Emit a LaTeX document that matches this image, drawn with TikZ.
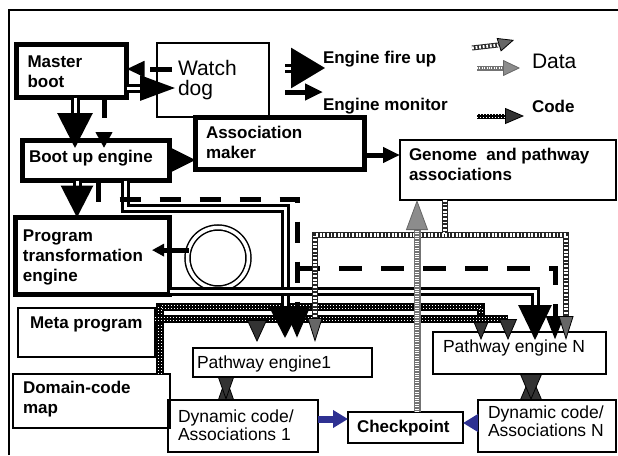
\documentclass[tikz,border=0pt]{standalone}
\usepackage{fontspec}
\setmainfont{Liberation Sans}
\usetikzlibrary{arrows.meta,calc}
\definecolor{navy}{RGB}{46,49,146}
\newcommand\bxt[5]{\parbox[c][#2pt][t]{#1pt}{\raggedright\leftskip=#3pt\relax\rule{0pt}{#4pt}#5}}
\newcommand\fbold{\fontsize{17}{20}\selectfont\bfseries}
\newcommand\freg{\fontsize{17.5}{18}\selectfont}
\newcommand\fbig{\fontsize{21}{20}\selectfont}
\tikzset{
  thickbox/.style={draw, line width=5pt, inner sep=0pt, outer sep=0pt, anchor=north west, font=\fbold},
  thinbox/.style={draw, line width=1.5pt, inner sep=0pt, outer sep=0pt, anchor=north west},
  lbl/.style={anchor=base west, inner sep=0pt, outer sep=0pt},
  fire/.style={double, line width=3pt, double distance=3pt, -{Triangle[length=32pt,width=32pt]}},
  mon/.style={line width=5pt, -{Triangle[length=16pt,width=16pt]}},
  codeband/.style={draw=black, line width=#1, postaction={draw=white, double=black, line width=1pt, double distance=0.3*#1, dash pattern=on 1pt off 2pt}},
  codeband/.default=8pt,
  codehead/.style={draw=black, line width=0.8pt, -{Triangle[fill=black!80,#1]}},
  codebow/.style={draw=black, line width=0.8pt, {Triangle[fill=black!80,#1]}-{Triangle[fill=black!80,#1]}},
  graydata/.style={draw=black!55, line width=#1, postaction={draw=white, line width=0.55*#1, dash pattern=on 1pt off 1.4pt}},
  graydata/.default=7pt,
  grayhead/.style={draw=black!60, line width=0.8pt, -{Triangle[fill=black!45,#1]}},
  hatch/.style={draw=black!85, line width=#1, postaction={draw=white, line width=0.6*#1, dash pattern=on 1.8pt off 1.8pt}},
  hatch/.default=6pt,
  hatchhead/.style={draw=black, line width=0.8pt, -{Triangle[fill=black!60,#1]}},
  bluearrow/.style={draw=navy, line width=7pt, -{Triangle[length=15pt,width=17pt]}}
}
\begin{document}
\begin{tikzpicture}[x=1pt,y=-1pt]
\useasboundingbox (0,0) rectangle (618,455);
% frame
\draw[line width=1.5pt] (9,455) -- (9,10) -- (618,10);
% boxes
\node[thickbox] (mb) at (16.5,44.5) {\bxt{110}{53}{11}{22.5}{Master\\boot}};
\node[thinbox, font=\fbig] (wd) at (157,43) {\bxt{112}{74}{21}{32}{Watch\\dog}};
\node[thickbox] (bu) at (22.5,140.5) {\bxt{147}{40}{6.5}{21.5}{Boot up engine}};
\node[thickbox] (am) at (195.5,117.5) {\bxt{169}{52}{10.5}{20.5}{Association\\maker}};
\node[thinbox, font=\fbold] (gp) at (400,140) {\bxt{216}{60}{9}{20}{Genome\ \ and pathway\\associations}};
\node[thickbox] (pte) at (15.5,217.5) {\bxt{154}{77}{7.5}{23.5}{Program\\transformation\\engine}};
\node[thinbox, font=\fbold] (mp) at (18,308) {\bxt{137}{49}{12}{20}{Meta program}};
\node[thinbox, font=\fbold] (dc) at (13,374) {\bxt{157}{54}{10}{19}{Domain-code\\map}};
\node[thinbox, font=\freg] (pe1) at (193,348) {\bxt{179}{29}{4}{20}{Pathway engine1}};
\node[thinbox, font=\freg] (pen) at (433,332) {\bxt{173}{42}{10}{20}{Pathway engine N}};
\node[thinbox, font=\freg] (dy1) at (168,400) {\bxt{150}{52}{10}{22}{Dynamic code/\\Associations 1}};
\node[thinbox, font=\fbold] (ck) at (348,412) {\bxt{115}{31}{9}{20}{Checkpoint}};
\node[thinbox, font=\freg] (dyn) at (478,400) {\bxt{138}{52}{10}{18}{Dynamic code/\\Associations N}};
\node[draw, circle, double, line width=1.5pt, double distance=3.5pt, minimum size=61pt, inner sep=0pt, outer sep=0pt] (eng) at (218,258) {};
% legend
\coordinate (lf1) at (285,68); \coordinate (lf2) at (325,68);
\draw[fire, -{Triangle[length=34pt,width=40pt]}] (lf1) -- (lf2);
\node[lbl, font=\fbold] (tfire) at (323,63) {Engine fire up};
\coordinate (lm1) at (285,92); \coordinate (lm2) at (323,92);
\draw[mon, -{Triangle[length=18pt,width=16pt]}] (lm1) -- (lm2);
\node[lbl, font=\fbold] (tmon) at (323,110) {Engine monitor};
\coordinate (lh1) at (472,48); \coordinate (lh2) at (498,45); \coordinate (lh3) at (514,40);
\draw[hatch=5pt] (lh1) -- (lh2);
\draw[hatchhead={length=16pt,width=14pt}] (lh2) -- (lh3);
\coordinate (lg1) at (477,68); \coordinate (lg2) at (503,68); \coordinate (lg3) at (520,68);
\draw[graydata=5pt] (lg1) -- (lg2);
\draw[grayhead={length=17pt,width=16pt}] (lg2) -- (lg3);
\node[lbl, font=\fbig] (tdata) at (532,68) {Data};
\coordinate (lc1) at (477,116); \coordinate (lc2) at (505,116); \coordinate (lc3) at (524,116);
\draw[codeband=5pt] (lc1) -- (lc2);
\draw[codehead={length=19pt,width=16pt}] (lc2) -- (lc3);
\node[lbl, font=\fbold] (tcode) at (532,112) {Code};
% code bands
\coordinate (c1) at (160,307); \coordinate (c2) at (481,307); \coordinate (c3) at (508,319); \coordinate (c4) at (257,320);
\draw[codeband] (dc.north -| c1) -- (c1) -- (c2) -- ($(c2)+(0,11)$);
\draw[codehead={length=22pt,width=18pt}] ($(c2)+(0,11)$) -- ($(c2 |- pen.north)+(0,8)$);
\draw[codeband] (mp.east |- c3) -- (c3);
\draw[codehead={length=21pt,width=18pt}] (c3) -- ($(c3 |- pen.north)+(0,8)$);
\draw[codehead={length=22pt,width=20pt}] (c4) -- ($(c4 |- pe1.north)+(0,-6)$);
\draw[codebow={length=23pt,width=16pt}] (pe1.south -| 226,0) -- (dy1.north -| 226,0);
\draw[codebow={length=26pt,width=22pt}] (pen.south -| 531,0) -- (dyn.north -| 531,0);
% engine fire up
\draw[fire, -{Triangle[length=35pt,width=25pt]}] (mb.east |- 0,88) -- ($(wd.west |- 0,88)+(18,0)$);
\draw[fire, -{Triangle[length=35pt,width=35pt]}] (mb.south -| 75,0) -- ($(bu.north -| 75,0)+(0,7.5)$);
\draw[fire, -{Triangle[length=26pt,width=25pt]}] (bu.east |- 0,160) -- (am.west |- 0,160);
\draw[fire] (bu.south -| 77,0) -- (pte.north -| 77,0);
\coordinate (f1) at (125,208); \coordinate (f2) at (285,208); \coordinate (f3) at (535,291);
\draw[fire] (bu.south -| f1) -- (f1) -- (f2) -- ($(f2 |- pe1.north)+(0,-10)$);
\draw[fire, -{Triangle[length=35pt,width=33pt]}] (pte.east |- f3) -- (f3) -- ($(f3 |- pen.north)+(0,8)$);
% engine monitor
\draw[mon, dash pattern=on 22pt off 10pt, -{Triangle[length=18pt,width=15pt]}] ($(wd.west |- 0,69)+(15,0)$) -- (mb.east |- 0,69);
\draw[mon, dash pattern=on 20pt off 17pt] (mb.south -| 104,0) -- ($(bu.north -| 104,0)+(0,7.5)$);
\draw[mon, -{Triangle[length=17pt,width=15pt]}] (am.east |- 0,155) -- (gp.west |- 0,155);
\draw[mon, -{Triangle[length=12pt,width=12pt]}] (eng.165) -- ($(eng.165 -| pte.east)+(-17.5,0)$);
\coordinate (m1) at (98,199); \coordinate (m2) at (297,199); \coordinate (m3) at (297,268); \coordinate (m4) at (555,268);
\draw[mon, dash pattern=on 21pt off 19pt, -{Triangle[length=30pt,width=24pt]}] (bu.south -| m1) -- (m1) -- (m2) -- ($(m2 |- pe1.north)+(0,-10)$);
\draw[mon, dash pattern=on 23pt off 19pt, -{Triangle[length=24pt,width=17pt]}] (m3) -- (m4) -- ($(m4 |- pen.north)+(0,8)$);
% hatched data
\coordinate (h0) at (445,235); \coordinate (h1) at (315,235); \coordinate (h2) at (315,318);
\coordinate (h3) at (566,235); \coordinate (h4) at (566,316);
\draw[hatch] (gp.south -| h0) -- (h0) -- (h1) -- (h2);
\draw[hatchhead={length=24pt,width=15pt}] (h2) -- ($(h2 |- pe1.north)+(0,-6)$);
\draw[hatch] (h0) -- (h3) -- (h4);
\draw[hatchhead={length=24pt,width=15pt}] (h4) -- ($(h4 |- pen.north)+(0,8)$);
% gray data
\coordinate (g1) at (417,230);
\draw[graydata] (ck.north -| g1) -- (g1);
\draw[grayhead={length=30pt,width=22pt}] (g1) -- (gp.south -| g1);
% checkpoint arrows
\draw[bluearrow] (dy1.east |- 0,419) -- (ck.west |- 0,419);
\draw[bluearrow] (dyn.west |- 0,423) -- (ck.east |- 0,423);
\end{tikzpicture}
\end{document}
